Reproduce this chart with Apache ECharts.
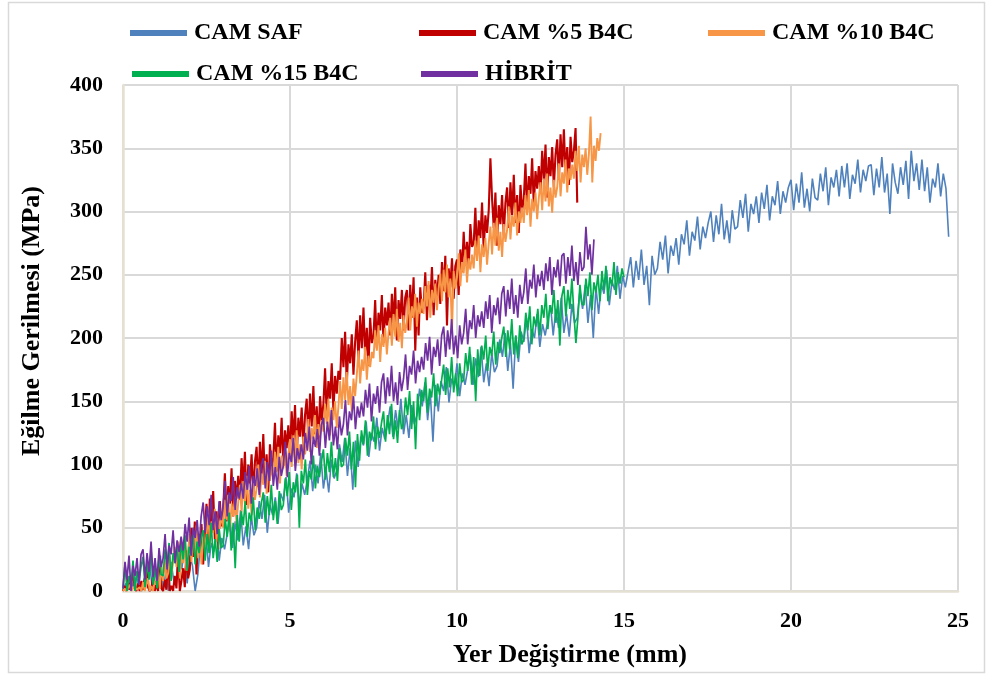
<!DOCTYPE html>
<html>
<head>
<meta charset="utf-8">
<script src="https://cdn.jsdelivr.net/npm/echarts@6/dist/echarts.min.js"></script>
<style>
  html, body { margin: 0; padding: 0; background: #fff; }
  #chart { width: 988px; height: 679px; }
</style>
</head>
<body>
<div id="chart"></div>
<script>
// Three-point bending test: stress (MPa) sampled at a fixed displacement step (mm)
const seriesNames = ['CAM SAF', 'CAM %5 B4C', 'CAM %10 B4C', 'CAM %15 B4C', 'HİBRİT'];
const seriesColors = ['#4f81bd', '#c00000', '#f79646', '#00b050', '#7030a0'];
const seriesWidths = [1.6, 2.1, 1.9, 1.7, 1.7];
const xTicks = [0, 5, 10, 15, 20, 25];
const yTicks = [0, 50, 100, 150, 200, 250, 300, 350, 400];

// displacement step between samples, mm
const stepSaf = 0.08;
const step5 = 0.05;
const step10 = 0.05;
const step15 = 0.06;
const stepHibrit = 0.06;

const camSaf = [
  0,6,1,9,2,12,3,0,10,7,
  22,0,19,4,28,0,15,0,23,8,
  10,31,17,36,6,28,20,0,13,37,
  28,47,19,38,31,50,24,42,33,45,
  58,34,55,40,64,36,51,33,59,44,
  50,71,57,76,46,68,60,74,53,77,
  71,90,62,81,74,93,67,85,76,88,
  103,79,100,85,109,81,96,78,104,89,
  95,116,102,121,91,113,80,119,98,122,
  115,134,106,125,118,137,111,129,120,132,
  146,122,143,128,152,124,139,121,147,132,
  139,160,146,165,135,157,118,163,142,166,
  158,177,149,168,161,180,154,172,163,175,
  187,163,184,169,193,165,180,162,188,173,
  178,199,185,204,174,196,160,202,181,205,
  197,216,188,207,200,219,193,211,202,214,
  226,202,223,208,232,204,219,201,227,212,
  216,237,223,242,212,234,200,240,219,243,
  235,254,226,245,238,257,231,249,240,252,
  264,240,261,246,270,242,257,226,265,250,
  255,276,262,281,251,273,265,279,258,282,
  274,293,265,284,277,296,270,288,279,291,
  300,276,297,282,306,278,293,275,301,286,
  288,309,295,314,284,306,298,312,291,315,
  302,321,293,312,305,324,298,316,307,319,
  325,301,322,307,331,303,318,300,326,311,
  309,330,316,335,305,327,319,333,312,336,
  319,338,310,329,322,341,315,333,324,336,
  337,313,334,319,343,315,330,298,338,323,
  314,335,321,340,310,348,324,338,317,341,
  316,335,307,326,319,338,312,330,318,280
];

const cam5 = [
  0,4,0,10,1,0,15,2,0,6,
  0,8,1,0,18,3,0,2,12,0,
  5,0,22,2,0,9,1,26,0,4,
  0,12,2,28,0,8,18,3,32,10,
  17,50,27,55,13,45,30,53,21,47,
  69,37,73,47,79,41,63,33,71,51,
  65,93,55,83,69,97,59,87,73,91,
  72,105,82,110,68,100,85,108,76,102,
  114,82,118,92,124,86,108,78,116,96,
  105,133,95,123,109,137,99,127,113,131,
  109,142,119,147,105,137,122,145,113,139,
  152,120,156,130,162,124,146,116,154,134,
  148,176,138,166,152,180,142,170,156,174,
  167,200,177,205,163,195,180,203,171,197,
  214,182,218,192,224,186,208,178,216,196,
  202,230,192,220,206,234,196,224,210,228,
  202,235,212,240,198,230,215,238,206,232,
  238,206,242,216,248,190,232,202,240,220,
  224,252,214,242,228,256,218,246,232,250,
  227,260,237,265,210,255,240,263,231,257,
  262,234,270,252,284,258,276,256,290,272,
  275,303,265,293,279,307,269,297,283,301,
  342,310,287,315,273,305,290,313,281,307,
  319,287,323,297,329,291,313,283,321,301,
  310,338,300,328,314,342,304,332,318,336,
  315,348,325,353,311,343,328,351,319,345,
  357,325,361,335,365,329,351,321,359,339,
  348,366,307
];

const cam10 = [
  0,2,0,1,5,0,0,4,1,0,
  3,0,7,0,1,10,0,4,0,8,
  5,16,2,20,8,24,10,14,28,12,
  13,35,19,39,10,32,22,37,16,33,
  45,23,48,30,52,26,41,21,47,33,
  43,62,36,55,46,65,39,58,49,61,
  50,72,56,76,47,69,59,74,53,70,
  84,62,87,69,91,65,80,60,86,72,
  81,100,74,93,84,103,77,96,87,99,
  88,110,94,114,85,107,97,112,91,108,
  120,98,123,105,127,101,116,96,122,108,
  117,136,110,129,120,139,113,132,123,135,
  126,148,132,152,123,145,135,150,129,146,
  166,144,169,151,173,147,162,142,168,154,
  171,190,164,183,174,193,167,186,177,189,
  184,206,190,210,181,203,193,208,187,204,
  216,194,219,201,223,197,212,192,218,204,
  213,232,206,225,216,235,209,228,219,231,
  219,241,225,245,216,238,228,243,222,239,
  251,229,254,236,258,232,247,205,253,239,
  248,267,241,260,251,270,244,263,254,266,
  255,277,261,281,252,274,264,279,258,275,
  288,266,291,273,295,269,284,264,290,276,
  285,304,278,297,288,307,281,300,291,303,
  291,313,297,317,288,310,300,315,294,311,
  323,301,326,308,330,304,319,299,325,311,
  319,338,312,331,322,341,315,334,325,337,
  326,348,332,352,323,345,335,350,329,346,
  375,323,352,340,358,348,362
];

const cam15 = [
  2,21,0,12,5,24,0,16,7,19,
  27,3,24,9,33,5,20,2,28,13,
  12,33,19,38,8,30,22,36,15,39,
  25,44,16,35,28,47,21,39,30,42,
  48,24,45,30,54,26,41,23,49,34,
  36,57,43,62,32,54,18,60,39,63,
  52,71,43,62,55,74,48,66,57,69,
  78,54,75,60,84,56,71,53,79,64,
  68,89,75,94,64,86,78,92,50,95,
  85,104,76,95,88,107,81,99,90,102,
  112,88,109,94,118,90,105,87,113,98,
  100,121,107,126,96,118,82,124,103,127,
  116,135,107,126,119,138,112,130,121,133,
  142,118,139,124,148,120,135,117,143,128,
  132,153,139,158,128,150,112,156,135,159,
  150,169,141,160,153,172,146,164,155,167,
  179,155,176,161,185,157,172,154,180,165,
  167,188,174,193,163,185,150,191,170,194,
  183,202,174,193,186,205,179,197,188,200,
  209,185,206,191,215,187,202,184,210,195,
  199,220,206,225,195,217,209,223,202,226,
  216,235,207,226,219,238,212,230,194,233,
  241,217,238,223,247,219,196,216,242,227,
  226,247,233,252,222,244,236,250,229,253,
  238,257,229,248,241,260,234,252,243,255,
  248
];

const hibrit = [
  2,23,9,28,0,20,12,26,5,29,
  33,9,30,15,39,11,26,8,34,19,
  26,45,17,36,29,48,22,40,31,43,
  32,53,39,58,28,50,42,56,35,59,
  70,46,67,52,76,48,63,45,71,56,
  68,87,59,78,71,90,64,82,73,85,
  73,94,80,99,69,91,83,97,76,100,
  105,81,102,87,111,83,98,80,106,91,
  99,118,90,109,102,121,95,113,104,116,
  104,125,111,130,100,122,114,128,107,131,
  137,113,134,119,143,115,130,112,138,123,
  132,151,123,142,135,154,128,146,137,149,
  138,159,145,164,134,156,148,162,141,165,
  172,148,169,154,178,150,165,147,173,158,
  168,187,159,178,171,190,164,182,173,185,
  175,196,182,201,171,193,185,199,178,202,
  209,185,206,191,215,187,202,184,210,195,
  204,223,195,214,207,226,200,218,209,221,
  208,229,215,234,204,226,218,232,211,235,
  241,217,238,223,247,219,234,216,242,227,
  236,255,227,246,239,258,232,250,241,253,
  238,259,245,264,234,256,248,262,241,265,
  267,243,264,249,273,245,260,242,268,253,
  256,288,262,274,250,278
];

function toPoints(values, step) {
  return values.map((v, i) => [Math.round(i * step * 1000) / 1000, v]);
}

const seriesValues = [camSaf, cam5, cam10, cam15, hibrit];
const seriesSteps = [stepSaf, step5, step10, step15, stepHibrit];

const FONT = '"Liberation Serif", "Times New Roman", serif';

const legendPos = [
  { left: 125, top: 16 },
  { left: 414, top: 16 },
  { left: 703, top: 16 },
  { left: 127, top: 57 },
  { left: 416, top: 57 }
];

const chart = echarts.init(document.getElementById('chart'), null, { renderer: 'canvas' });

chart.setOption({
  animation: false,
  backgroundColor: '#ffffff',
  grid: { left: 123, right: 30, top: 85, bottom: 88, containLabel: false },
  legend: seriesNames.map((name, i) => ({
    data: [name],
    left: legendPos[i].left,
    top: legendPos[i].top,
    icon: 'rect',
    itemWidth: 57,
    itemHeight: 6,
    itemGap: 0,
    selectedMode: false,
    textStyle: { fontFamily: FONT, fontWeight: 'bold', fontSize: 24, color: '#000', padding: [0, 0, 0, 2] }
  })),
  xAxis: {
    type: 'value',
    min: xTicks[0],
    max: xTicks[xTicks.length - 1],
    interval: 5,
    axisLine: { show: true, lineStyle: { color: '#e4e1d3', width: 2.5 } },
    axisTick: { show: false },
    axisLabel: { fontFamily: FONT, fontWeight: 'bold', fontSize: 22, color: '#000', margin: 19 },
    splitLine: { show: true, lineStyle: { color: '#d9d9d9', width: 2 } }
  },
  yAxis: {
    type: 'value',
    min: yTicks[0],
    max: yTicks[yTicks.length - 1],
    interval: 50,
    axisLine: { show: true, lineStyle: { color: '#e4e1d3', width: 2.5 } },
    axisTick: { show: false },
    axisLabel: { fontFamily: FONT, fontWeight: 'bold', fontSize: 22, color: '#000', margin: 20 },
    splitLine: { show: true, lineStyle: { color: '#d9d9d9', width: 2 } }
  },
  graphic: [
    {
      type: 'rect',
      shape: { x: 8.5, y: 2.5, width: 976, height: 670 },
      style: { fill: 'none', stroke: '#d9d9d9', lineWidth: 1.5 },
      silent: true
    },
    {
      type: 'text',
      x: 32,
      y: 321,
      rotation: Math.PI / 2,
      style: {
        text: 'Eğilme Gerilmesi (MPa)',
        fontFamily: FONT,
        fontWeight: 'bold',
        fontSize: 26,
        fill: '#000',
        textAlign: 'center',
        textVerticalAlign: 'middle'
      },
      silent: true
    },
    {
      type: 'text',
      x: 570,
      y: 655,
      style: {
        text: 'Yer Değiştirme (mm)',
        fontFamily: FONT,
        fontWeight: 'bold',
        fontSize: 26,
        fill: '#000',
        textAlign: 'center',
        textVerticalAlign: 'middle'
      },
      silent: true
    }
  ],
  series: seriesNames.map((name, i) => ({
    name: name,
    type: 'line',
    data: toPoints(seriesValues[i], seriesSteps[i]),
    showSymbol: false,
    symbol: 'none',
    smooth: false,
    lineStyle: { color: seriesColors[i], width: seriesWidths[i] },
    itemStyle: { color: seriesColors[i] },
    emphasis: { disabled: true },
    z: 2 + i
  }))
});
</script>
</body>
</html>
